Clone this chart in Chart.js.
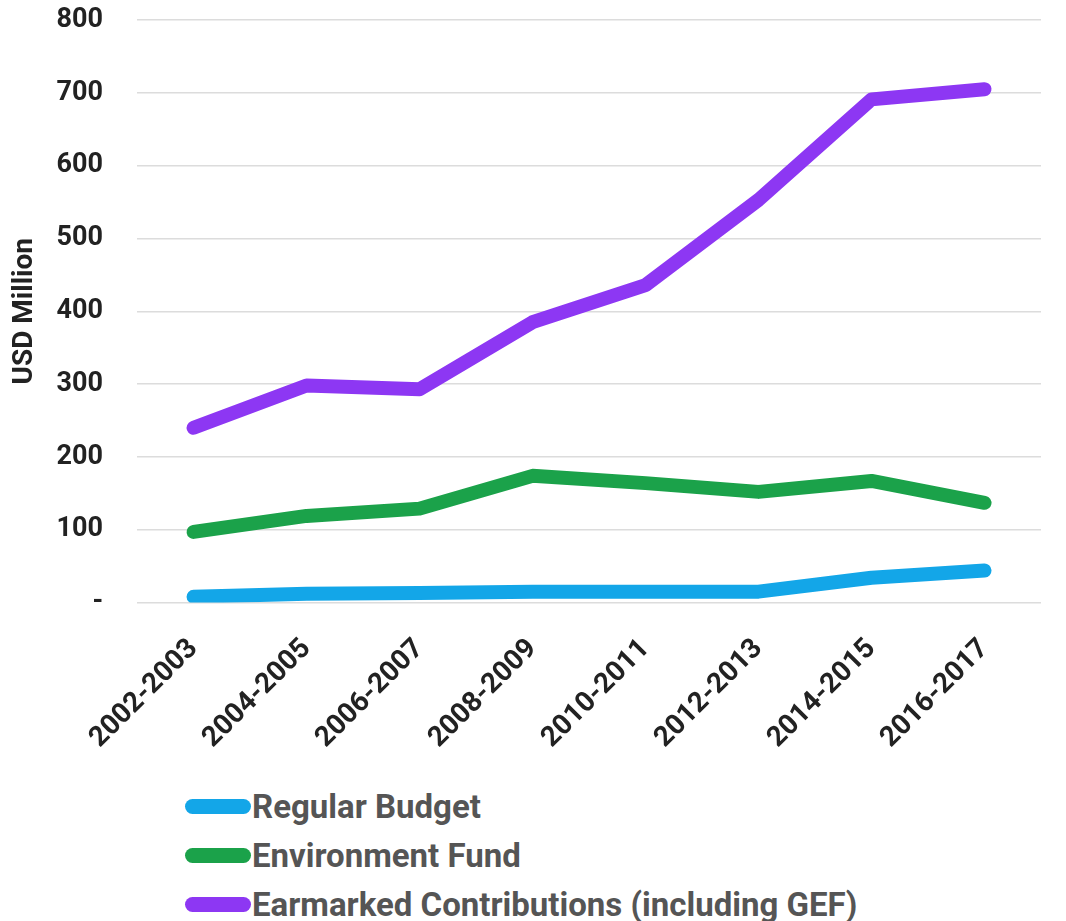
<!DOCTYPE html>
<html>
<head>
<meta charset="utf-8">
<script src="https://cdn.jsdelivr.net/npm/chart.js@4"></script>
<style>
    body { margin: 0; background: #fff; font-family: Roboto, sans-serif; }
    #wrap { position: relative; width: 1066px; height: 777px; }
    #legend { margin: 5px 0 0 185px; }
    .item { display: flex; align-items: center; height: 49px; }
    .swatch { width: 66px; height: 15px; border-radius: 8px; }
    .label { font-weight: bold; font-size: 33px; color: #555; margin-left: 1px; }
</style>
</head>
<body>
<div id="wrap"><canvas id="chart"></canvas></div>
<div id="legend"></div>
<script>
var periods = ["2002-2003", "2004-2005", "2006-2007", "2008-2009",
               "2010-2011", "2012-2013", "2014-2015", "2016-2017"];
var regularBudget = [8, 12, 13, 15, 15, 15, 34, 44];
var environmentFund = [97, 119, 129, 174, 164, 152, 167, 137];
var earmarked = [240, 298, 293, 385, 436, 553, 691, 705];
var seriesNames = ["Regular Budget", "Environment Fund", "Earmarked Contributions (including GEF)"];
var seriesColors = ["#13a6e8", "#1ba24a", "#8d37f3"];

var yTickPad = 34;

function makeSet(i, data) {
    return {
        label: seriesNames[i],
        data: data,
        borderColor: seriesColors[i],
        backgroundColor: seriesColors[i],
        borderWidth: 14,
        borderCapStyle: 'round',
        borderJoinStyle: 'round',
        pointRadius: 0,
        tension: 0
    };
}

var config = {
    type: 'line',
    data: {
        labels: periods,
        datasets: [
            makeSet(2, earmarked),
            makeSet(1, environmentFund),
            makeSet(0, regularBudget)
        ]
    },
    options: {
        responsive: true,
        maintainAspectRatio: false,
        animation: false,
        layout: { padding: { top: 0, right: 25, left: 8 } },
        plugins: {
            legend: { display: false },
            tooltip: { enabled: false }
        },
        scales: {
            x: {
                offset: true,
                grid: { display: false },
                border: { display: false },
                // rotated labels may hang left of the plot, like the original
                afterFit: function(scale) { scale.paddingLeft = 0; },
                ticks: {
                    color: '#222',
                    maxRotation: 45,
                    minRotation: 45,
                    padding: 22,
                    font: { family: 'Roboto', size: 28, weight: 'bold' }
                }
            },
            y: {
                min: 0,
                max: 800,
                grid: { color: '#dcdcdc', lineWidth: 1.5, drawTicks: false },
                border: { display: false },
                // chart.js reserves the tick padding twice; keep it once
                afterFit: function(scale) {
                    scale.paddingTop = 20;
                    scale.width -= yTickPad;
                },
                ticks: {
                    stepSize: 100,
                    color: '#222',
                    padding: yTickPad,
                    font: { family: 'Roboto', size: 27, weight: 'bold' },
                    callback: function(v) { return v === 0 ? '-' : v; }
                },
                title: {
                    display: true,
                    text: 'USD Million',
                    color: '#222',
                    padding: { top: 0, bottom: 15 },
                    font: { family: 'Roboto', size: 28, weight: 'bold' }
                }
            }
        }
    }
};

var ctx = document.getElementById("chart").getContext("2d");
var chart = new Chart(ctx, config);

// legend, in the original top-to-bottom order
var legend = document.getElementById('legend');
for (var i = 0; i < seriesNames.length; i++) {
    legend.innerHTML += '<div class="item"><div class="swatch" style="background:' +
        seriesColors[i] + '"></div><div class="label">' + seriesNames[i] + '</div></div>';
}
</script>
</body>
</html>
